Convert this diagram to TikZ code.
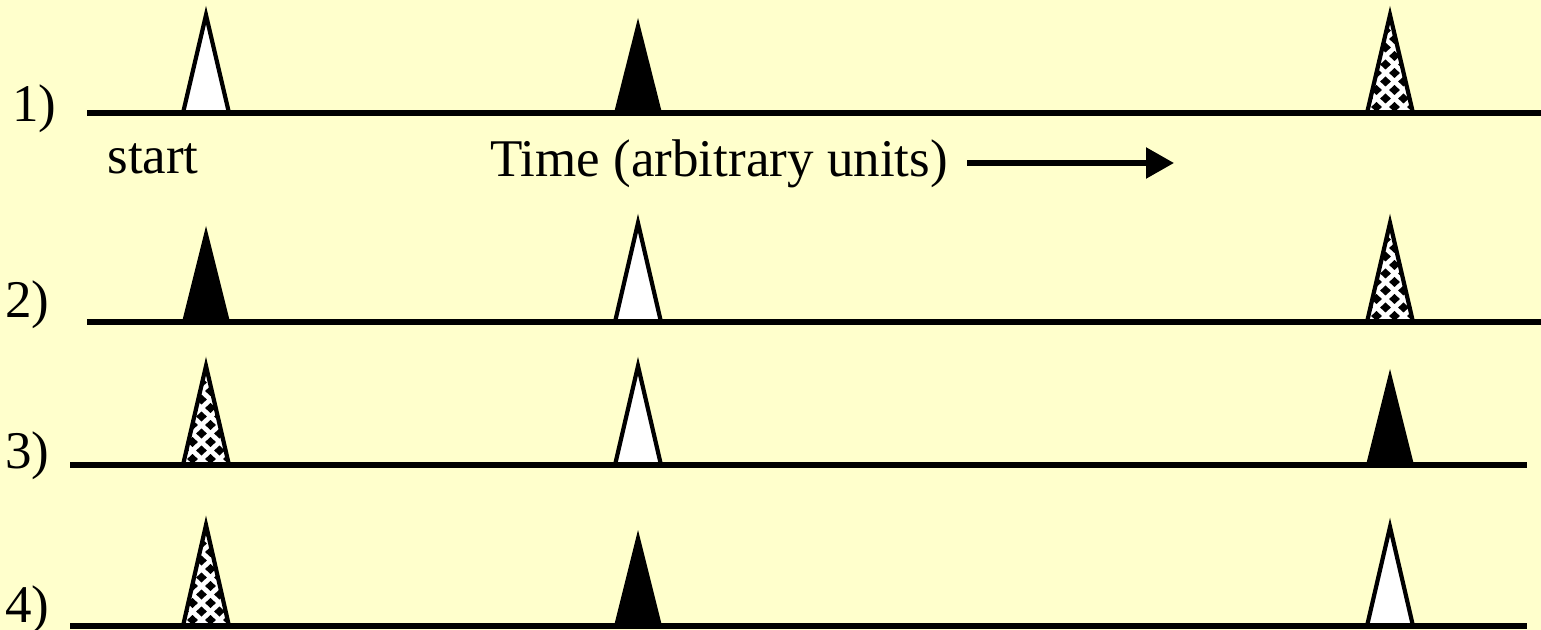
\documentclass[tikz,border=0pt]{standalone}
\usepackage{fontspec}
\setmainfont{Liberation Serif}
\usetikzlibrary{arrows.meta}
\definecolor{bg}{RGB}{255,255,204}
\tikzset{
  axis/.style={line width=2.75pt},
  tri/.style={line width=2.1pt, line join=miter},
  lbl/.style={anchor=base west, inner sep=0pt, font=\fontsize{26.5pt}{30pt}\selectfont},
}
\newcommand\whitepulse[3]{%
  \draw[tri,fill=white] (#1-23,#3) -- (#1,#2) -- (#1+23,#3) -- cycle;}
\newcommand\blackpulse[3]{%
  \fill[black] (#1-24,#3) -- (#1,#2) -- (#1+24,#3) -- cycle;}
\newcommand\checkpulse[3]{%
  \begin{scope}
    \clip (#1-23,#3) -- (#1,#2) -- (#1+23,#3) -- cycle;
    \fill[white] (#1-30,#3+5) rectangle (#1+30,#2-5);
    \foreach \j in {0,...,12}{
      \foreach \i in {-2,...,2}{
        \fill[black] ({#1+4.5-9*mod(\j,2)+18*\i-5.4},{#3-6-8.5*\j}) -- ++(5.4,-5) -- ++(5.4,5) -- ++(-5.4,5) -- cycle;
      }
    }
  \end{scope}
  \draw[tri] (#1-23,#3) -- (#1,#2) -- (#1+23,#3);}
\begin{document}
\begin{tikzpicture}[x=0.5pt,y=-0.5pt]
\fill[bg] (0,0) rectangle (1541,630);
\useasboundingbox (0,0) rectangle (1541,630);
% row 1
\whitepulse{206}{15}{113}
\blackpulse{638}{18}{113}
\checkpulse{1390}{15}{113}
\draw[axis] (87,113) -- (1541,113);
% row 2
\blackpulse{206}{226}{322}
\whitepulse{638}{223}{322}
\checkpulse{1390}{223}{322}
\draw[axis] (87,322) -- (1541,322);
% row 3
\checkpulse{206}{366}{465}
\whitepulse{638}{366}{465}
\blackpulse{1390}{369}{465}
\draw[axis] (70,465) -- (1527,465);
% row 4
\checkpulse{206}{525}{626}
\blackpulse{638}{530}{626}
\whitepulse{1390}{527}{626}
\draw[axis] (70,626) -- (1527,626);
% labels
\node[lbl] (l1) at (12,122) {1)};
\node[lbl] (l2) at (5,318) {2)};
\node[lbl] (l3) at (5,468) {3)};
\node[lbl] (l4) at (5,622) {4)};
\node[lbl] (start) at (107,174) {start};
\node[lbl] (time) at (490,177) {Time (arbitrary units)};
\coordinate (astart) at (967,163);
\coordinate (aend) at (1174,163);
\draw[line width=2.75pt,-{Triangle[length=14pt,width=15pt]}] (astart) -- (aend);
\end{tikzpicture}
\end{document}
